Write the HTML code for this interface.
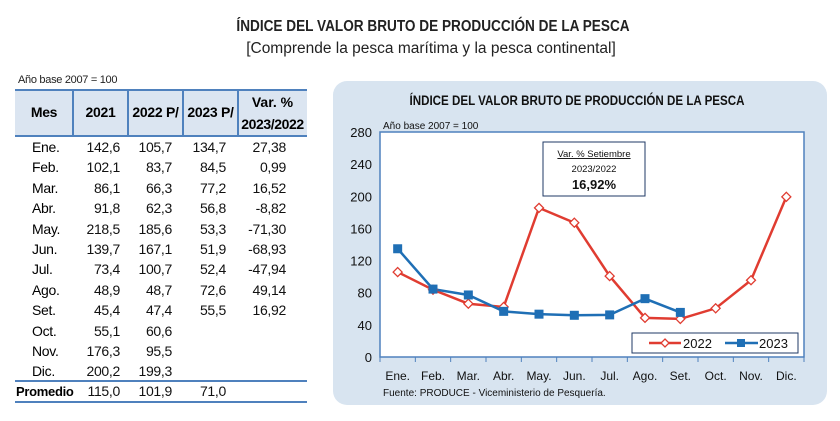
<!DOCTYPE html>
<html><head><meta charset="utf-8"><style>
body{margin:0;width:840px;height:421px;background:#fff;position:relative;font-family:"Liberation Sans",sans-serif;overflow:hidden}
.a{position:absolute}
.t{font-family:"Liberation Sans",sans-serif;white-space:nowrap}
.cell{position:absolute;font-size:14px;color:#111;text-align:right;letter-spacing:-0.3px}
</style></head><body>
<div class="a t" style="left:0;width:866px;top:18px;text-align:center;font-weight:bold;font-size:16px;color:#222;transform:scaleX(0.85);transform-origin:433px 0">ÍNDICE DEL VALOR BRUTO DE PRODUCCIÓN DE LA PESCA</div>
<div class="a t" style="left:0;width:862px;top:40px;text-align:center;font-size:15.5px;color:#222">[Comprende la pesca marítima y la pesca continental]</div>

<div class="a t" style="left:18px;top:74px;font-size:11px;color:#222;letter-spacing:-0.3px">Año base 2007 = 100</div>
<div id="tbl"></div>

<div class="a" style="left:333px;top:81px;width:494px;height:324px;background:#d8e4f0;border-radius:14px"></div>
<svg class="a" style="left:0;top:0" width="840" height="421" id="svg"></svg>

<script>
const months=["Ene.","Feb.","Mar.","Abr.","May.","Jun.","Jul.","Ago.","Set.","Oct.","Nov.","Dic."];
const v2021=["142,6","102,1","86,1","91,8","218,5","139,7","73,4","48,9","45,4","55,1","176,3","200,2"];
const v2022=[105.7,83.7,66.3,62.3,185.6,167.1,100.7,48.7,47.4,60.6,95.5,199.3];
const v2023=[134.7,84.5,77.2,56.8,53.3,51.9,52.4,72.6,55.5];
const varPct=["27,38","0,99","16,52","-8,82","-71,30","-68,93","-47,94","49,14","16,92"];
const yTicks=[0,40,80,120,160,200,240,280];
const promedio=["115,0","101,9","71,0"];

const tbl=document.getElementById('tbl');
const cols=[15,73,128,183,238,307];
function add(html){tbl.insertAdjacentHTML('beforeend',html);}
add(`<div class="a" style="left:15px;top:90px;width:292px;height:46px;background:#dbe5f1"></div>`);
add(`<div class="a" style="left:15px;top:89px;width:292px;height:2px;background:#4f81bd"></div>`);
add(`<div class="a" style="left:15px;top:135px;width:292px;height:2px;background:#4f81bd"></div>`);
for(let i=1;i<5;i++)add(`<div class="a" style="left:${cols[i]-1}px;top:90px;width:2px;height:46px;background:#4f81bd"></div>`);
const hdr=["Mes","2021","2022 P/","2023 P/"];
hdr.forEach((h,i)=>add(`<div class="a t" style="left:${cols[i]}px;width:${cols[i+1]-cols[i]}px;top:104px;text-align:center;font-weight:bold;font-size:14px;letter-spacing:-0.3px">${h}</div>`));
add(`<div class="a t" style="left:238px;width:69px;top:94px;text-align:center;font-weight:bold;font-size:14px">Var. %</div>`);
add(`<div class="a t" style="left:238px;width:69px;top:116px;text-align:center;font-weight:bold;font-size:14px;letter-spacing:-0.4px">2023/2022</div>`);
const fmt=v=>v.toFixed(1).replace('.',',');
months.forEach((m,i)=>{
  const y=139+i*20.4;
  add(`<div class="a t" style="left:32px;top:${y}px;font-size:14px;letter-spacing:-0.3px">${m}</div>`);
  add(`<div class="cell t" style="left:73px;width:47px;top:${y}px">${v2021[i]}</div>`);
  add(`<div class="cell t" style="left:128px;width:44px;top:${y}px">${fmt(v2022[i])}</div>`);
  if(i<v2023.length){
    add(`<div class="cell t" style="left:183px;width:43px;top:${y}px">${fmt(v2023[i])}</div>`);
    add(`<div class="cell t" style="left:238px;width:48px;top:${y}px">${varPct[i]}</div>`);
  }
});
add(`<div class="a" style="left:15px;top:380px;width:292px;height:2px;background:#4f81bd"></div>`);
add(`<div class="a" style="left:15px;top:401px;width:292px;height:2px;background:#4f81bd"></div>`);
add(`<div class="a t" style="left:16px;top:384px;font-size:13px;font-weight:bold;letter-spacing:-0.3px">Promedio</div>`);
promedio.forEach((p,i)=>add(`<div class="cell t" style="left:${cols[i+1]}px;width:${[47,44,43][i]}px;top:383px">${p}</div>`));

const svg=document.getElementById('svg');
const NS="http://www.w3.org/2000/svg";
const X0=380,X1=804,Y0=357,Y1=132,YMAX=280;
const xs=i=>X0+(X1-X0)/12*(i+0.5);
const ys=v=>Y0-(Y0-Y1)*v/YMAX;
function el(tag,attrs,parent){const e=document.createElementNS(NS,tag);for(const k in attrs)e.setAttribute(k,attrs[k]);(parent||svg).appendChild(e);return e;}
function txt(s,attrs){const e=el('text',attrs);e.textContent=s;return e;}
const title=txt("ÍNDICE DEL VALOR BRUTO DE PRODUCCIÓN DE LA PESCA",{x:577,y:105,"text-anchor":"middle","font-size":"13.5","font-weight":"bold","font-family":"Liberation Sans","fill":"#111",textLength:335,lengthAdjust:"spacingAndGlyphs"});

const bn=txt("Año base  2007  =  100",{x:383,y:129,"font-size":"10","font-family":"Liberation Sans","fill":"#111"});

const pa=el('rect',{x:X0,y:Y1,width:X1-X0,height:Y0-Y1,fill:"#fff",stroke:"#4f81bd","stroke-width":"1.5"});

yTicks.forEach(t=>{
  const l=txt(String(t),{x:372,y:ys(t)+5,"text-anchor":"end","font-size":"13","font-family":"Liberation Sans","fill":"#111"});
  
});
months.forEach((m,i)=>{
  el('line',{x1:X0+(X1-X0)/12*i,x2:X0+(X1-X0)/12*i,y1:Y0,y2:Y0+5,stroke:"#4f81bd","stroke-width":"1"});
  const l=txt(m,{x:xs(i),y:380,"text-anchor":"middle","font-size":"12","font-family":"Liberation Sans","fill":"#111"});
  
});
el('line',{x1:X1,x2:X1,y1:Y0,y2:Y0+5,stroke:"#4f81bd"});
const src=txt("Fuente:  PRODUCE - Viceministerio de Pesquería.",{x:383,y:396,"font-size":"10","font-family":"Liberation Sans","fill":"#111"});

const ab=el('rect',{x:543,y:142,width:102,height:54,fill:"#fff",stroke:"#1f3864","stroke-width":"1"});

txt("Var. % Setiembre",{x:594,y:157,"text-anchor":"middle","font-size":"9.5","font-family":"Liberation Sans","text-decoration":"underline","fill":"#111"});
txt("2023/2022",{x:594,y:172,"text-anchor":"middle","font-size":"9.5","font-family":"Liberation Sans","fill":"#111"});
txt("16,92%",{x:594,y:189,"text-anchor":"middle","font-size":"13","font-weight":"bold","font-family":"Liberation Sans","fill":"#111"});
const red="#e03c31",blue="#1f6fb5";
const l22=el('polyline',{points:v2022.map((v,i)=>xs(i)+","+ys(v)).join(" "),fill:"none",stroke:red,"stroke-width":"2.5"});

const l23=el('polyline',{points:v2023.map((v,i)=>xs(i)+","+ys(v)).join(" "),fill:"none",stroke:blue,"stroke-width":"2.5"});

v2022.forEach((v,i)=>{const x=xs(i),y=ys(v);
  const p=el('polygon',{points:`${x},${y-4.5} ${x+4.5},${y} ${x},${y+4.5} ${x-4.5},${y}`,fill:"#fff",stroke:red,"stroke-width":"1.3"});
  });
v2023.forEach((v,i)=>{
  const r=el('rect',{x:xs(i)-4.5,y:ys(v)-4.5,width:9,height:9,fill:blue});
  });
const lg=el('rect',{x:632,y:333,width:166,height:20,fill:"#fff",stroke:"#1f3864","stroke-width":"1"});

el('line',{x1:649,x2:681,y1:343,y2:343,stroke:red,"stroke-width":"2.5"});
el('polygon',{points:"665,339 669,343 665,347 661,343",fill:"#fff",stroke:red,"stroke-width":"1.3"});
const t1=txt("2022",{x:683,y:348,"font-size":"13","font-family":"Liberation Sans","fill":"#111"});

el('line',{x1:725,x2:758,y1:343,y2:343,stroke:blue,"stroke-width":"2.5"});
el('rect',{x:737,y:339,width:8,height:8,fill:blue});
const t2=txt("2023",{x:759,y:348,"font-size":"13","font-family":"Liberation Sans","fill":"#111"});

</script>
</body></html>
